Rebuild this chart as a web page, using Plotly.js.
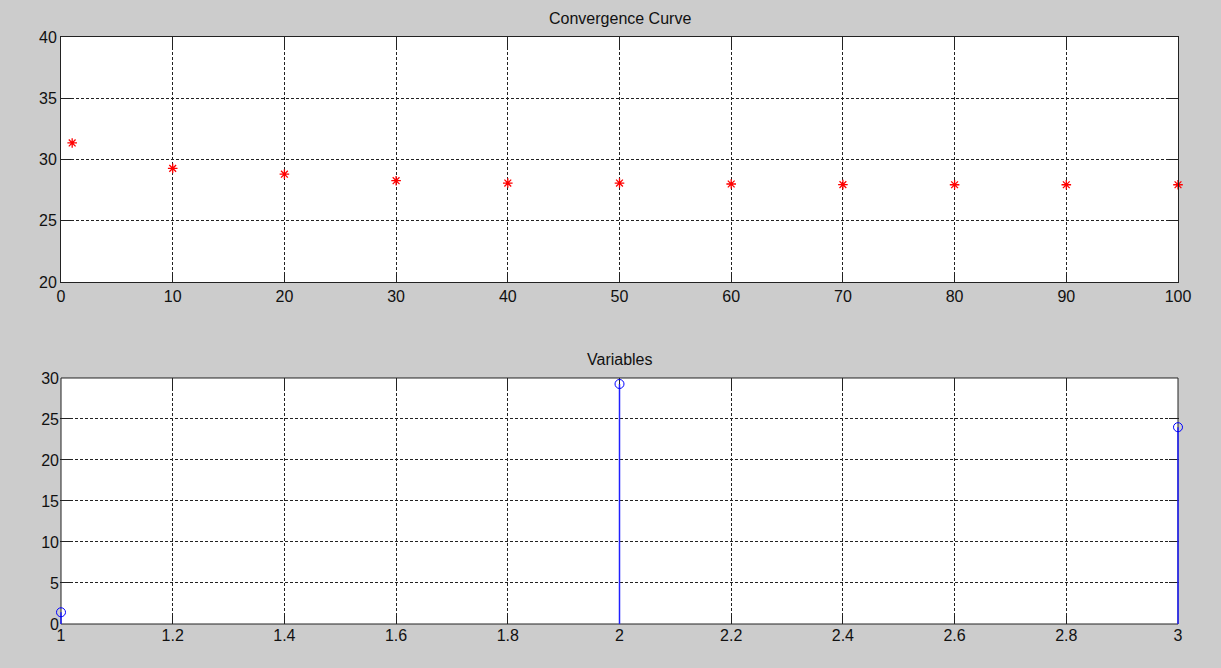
<!DOCTYPE html>
<html>
<head>
<meta charset="utf-8">
<script src="https://cdn.plot.ly/plotly-3.0.1.min.js"></script>
<style>
  html, body { margin: 0; padding: 0; background: #cccccc; }
  #chart { width: 1221px; height: 668px; }
</style>
</head>
<body>
<div id="chart"></div>
<script>
// Best fitness per iteration
const iterations = [1, 10, 20, 30, 40, 50, 60, 70, 80, 90, 100];
const fitness = [31.35, 29.28, 28.8, 28.27, 28.08, 28.08, 28.0, 27.95, 27.94, 27.94, 27.94];

// Final decision variables
const varIndex = [1, 2, 3];
const varValues = [1.43, 29.27, 24.0];

// Stem lines: from zero up to each value, separated by gaps
const stemX = [];
const stemY = [];
varIndex.forEach((v, i) => {
  stemX.push(v, v, null);
  stemY.push(0, varValues[i], null);
});

const font = { family: 'Liberation Sans, Arial, sans-serif', size: 16, color: '#111' };
const titleFont = { family: 'Liberation Sans, Arial, sans-serif', size: 16, color: '#111' };

const traces = [
  {
    x: iterations, y: fitness, xaxis: 'x', yaxis: 'y',
    mode: 'markers', type: 'scatter', cliponaxis: false,
    marker: { symbol: 'asterisk-open', size: 8, color: 'red', line: { color: 'red', width: 1.3 } },
    hoverinfo: 'x+y'
  },
  {
    x: stemX, y: stemY, xaxis: 'x2', yaxis: 'y2',
    mode: 'lines', type: 'scatter', cliponaxis: false,
    line: { color: '#2020ff', width: 1.5 }, hoverinfo: 'skip'
  },
  {
    x: varIndex, y: varValues, xaxis: 'x2', yaxis: 'y2',
    mode: 'markers', type: 'scatter', cliponaxis: false,
    marker: { symbol: 'circle-open', size: 9, color: '#0000ff', line: { color: '#0000ff', width: 1 } },
    hoverinfo: 'x+y'
  }
];

const axisCommon = {
  showline: true, linecolor: '#222', linewidth: 1, mirror: 'ticks',
  ticks: 'inside', ticklen: 10, tickcolor: '#222', tickwidth: 1,
  showgrid: true, gridcolor: '#222', gridwidth: 1, griddash: '3px,2px',
  zeroline: false, tickfont: font, fixedrange: true
};

// Lower subplot: the stems at 1 and 3 sit on the frame edges. The plot area is
// one pixel wider on each side so those stems are not clipped, and the frame is
// a shape kept under the data.
const pad = 1 / 1119;                 // one pixel of the 1119 px wide plot area
const padUnits = 2 / 1117;            // one pixel in lower x units
const lowerAxis = { showline: false, layer: 'below traces' };

const layout = {
  width: 1221, height: 668,
  paper_bgcolor: '#cccccc', plot_bgcolor: '#cccccc',
  margin: { l: 60, r: 42, t: 37, b: 44 },
  showlegend: false,
  font: font,
  xaxis: Object.assign({}, axisCommon, { domain: [pad, 1 - pad], anchor: 'y', range: [0, 100], tick0: 0, dtick: 10 }),
  yaxis: Object.assign({}, axisCommon, { domain: [0.5826, 1], anchor: 'x', range: [20, 40], tick0: 20, dtick: 5 }),
  xaxis2: Object.assign({}, axisCommon, lowerAxis, { domain: [0, 1], anchor: 'y2', range: [1 - padUnits, 3 + padUnits], tick0: 1, dtick: 0.2 }),
  yaxis2: Object.assign({}, axisCommon, lowerAxis, { domain: [0, 0.4191], anchor: 'x2', range: [0, 30], tick0: 0, dtick: 5 }),
  shapes: [
    { type: 'rect', xref: 'x domain', yref: 'y domain', x0: 0, x1: 1, y0: 0, y1: 1,
      line: { width: 0 }, fillcolor: '#ffffff', layer: 'below' },
    { type: 'rect', xref: 'x2', yref: 'y2 domain', x0: 1, x1: 3, y0: 0, y1: 1,
      line: { width: 0 }, fillcolor: '#ffffff', layer: 'below' },
    { type: 'rect', xref: 'x2', yref: 'y2 domain', x0: 1, x1: 3, y0: 0, y1: 1,
      line: { color: '#222', width: 1 }, fillcolor: 'rgba(0,0,0,0)', layer: 'below' }
  ],
  annotations: [
    { text: 'Convergence Curve', xref: 'paper', yref: 'paper', x: 0.5, y: 1, yshift: 8,
      xanchor: 'center', yanchor: 'bottom', showarrow: false, font: titleFont },
    { text: 'Variables', xref: 'paper', yref: 'paper', x: 0.5, y: 0.4191, yshift: 8,
      xanchor: 'center', yanchor: 'bottom', showarrow: false, font: titleFont }
  ]
};

Plotly.newPlot('chart', traces, layout, { displayModeBar: false });
</script>
</body>
</html>
